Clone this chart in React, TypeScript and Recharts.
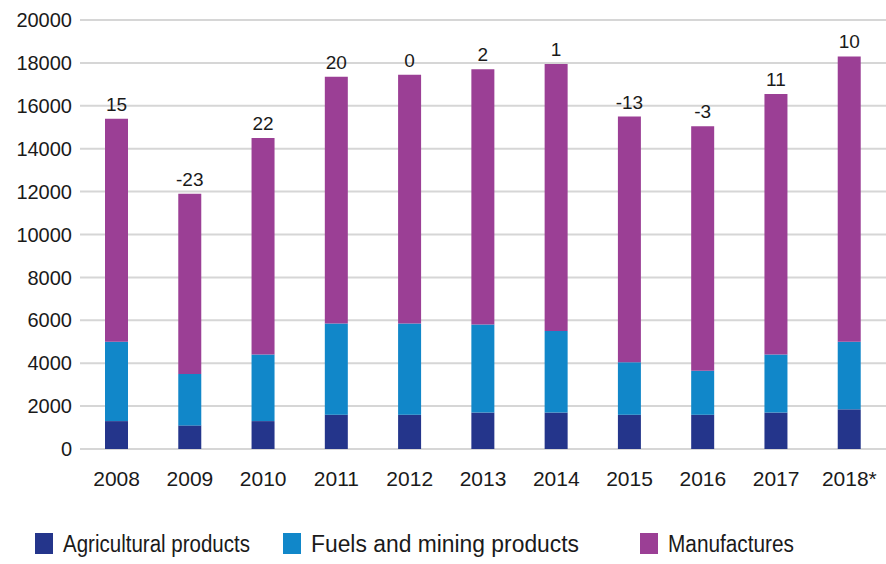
import React from 'react';
import {
  BarChart,
  Bar,
  XAxis,
  YAxis,
  CartesianGrid,
  Legend,
  LabelList,
} from 'recharts';

const years = ['2008', '2009', '2010', '2011', '2012', '2013', '2014', '2015', '2016', '2017', '2018*'];
const agricultural = [1300, 1100, 1300, 1600, 1600, 1700, 1700, 1600, 1600, 1700, 1850];
const fuels = [3700, 2400, 3100, 4250, 4250, 4100, 3800, 2450, 2050, 2700, 3150];
const manufactures = [10400, 8400, 10100, 11500, 11600, 11900, 12450, 11450, 11400, 12150, 13300];
const growth = ['15', '-23', '22', '20', '0', '2', '1', '-13', '-3', '11', '10'];
const yTicks = [0, 2000, 4000, 6000, 8000, 10000, 12000, 14000, 16000, 18000, 20000];

const series = [
  { key: 'agri', name: 'Agricultural products', color: '#24358b' },
  { key: 'fuels', name: 'Fuels and mining products', color: '#1187c9' },
  { key: 'manuf', name: 'Manufactures', color: '#9b3f95' },
];

const data = years.map((year, i) => ({
  year,
  agri: agricultural[i],
  fuels: fuels[i],
  manuf: manufactures[i],
  growth: growth[i],
}));

const tickFont = { fontFamily: '"Liberation Sans", Arial, sans-serif', fontSize: 21, fill: '#1a1a1a' };

// legend drawn by hand: the original uses a narrow face, so squeeze the text
const legendX = [35, 283, 640];
const legendTextW = [187, 268, 126];

const CustomLegend = () => (
  <svg width={886} height={30}>
    {series.map((s, i) => (
      <g key={s.key}>
        <rect x={legendX[i]} y={4} width={18} height={21} fill={s.color} />
        <text
          x={legendX[i] + 28}
          y={23}
          textLength={legendTextW[i]}
          lengthAdjust="spacingAndGlyphs"
          fontFamily='"Liberation Sans", Arial, sans-serif'
          fontSize={23}
          fill="#1a1a1a"
        >
          {s.name}
        </text>
      </g>
    ))}
  </svg>
);

const App: React.FC = () => {
  return (
    <div style={{ position: 'absolute', left: 0, top: 0, background: '#fff' }}>
      <BarChart
        width={886}
        height={564}
        data={data}
        margin={{ top: 20, right: 0, left: 0, bottom: 51 }}
      >
        <CartesianGrid vertical={false} stroke="#d6d6d6" strokeWidth={2} />
        <XAxis
          dataKey="year"
          axisLine={false}
          tickLine={false}
          tickMargin={16}
          tick={tickFont}
          interval={0}
        />
        <YAxis
          width={80}
          domain={[0, 20000]}
          ticks={yTicks}
          axisLine={false}
          tickLine={false}
          tick={{ ...tickFont, fontSize: 20 }}
          interval={0}
        />
        <Legend
          verticalAlign="bottom"
          content={<CustomLegend />}
          wrapperStyle={{ left: 0, bottom: 1, width: 886 }}
        />
        {series.map((s, i) => (
          <Bar
            key={s.key}
            dataKey={s.key}
            name={s.name}
            stackId="total"
            fill={s.color}
            barSize={23}
            isAnimationActive={false}
          >
            {i === series.length - 1 && (
              <LabelList
                dataKey="growth"
                position="top"
                offset={8}
                style={{ fontFamily: '"Liberation Sans", Arial, sans-serif', fontSize: 19, fill: '#1a1a1a' }}
              />
            )}
          </Bar>
        ))}
      </BarChart>
    </div>
  );
};

export default App;
